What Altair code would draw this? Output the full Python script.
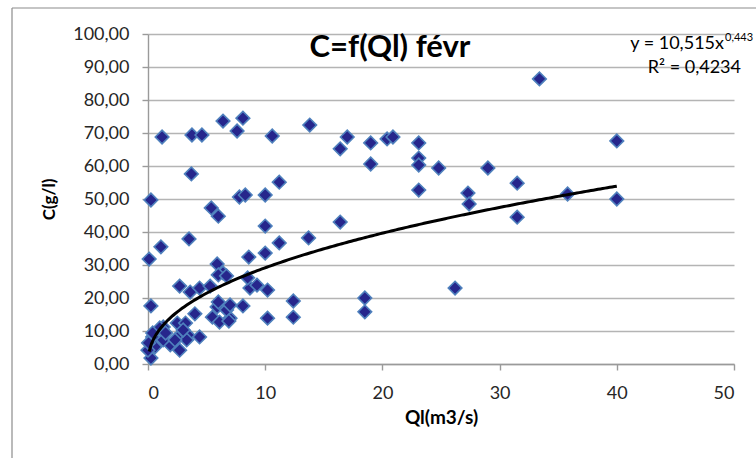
import altair as alt
import numpy as np
import pandas as pd

# Measured discharge Ql (m3/s) and concentration C (g/l), February
ql = [1.2, 3.75, 4.6, 6.4, 7.6, 8.1, 10.6, 13.8, 17.0, 16.4,
      19.0, 20.4, 20.9, 23.1, 23.1, 23.1, 19.0, 24.8, 29.0, 23.1,
      27.3, 27.4, 31.5, 31.5, 33.4, 40.0, 35.8, 40.0, 16.4, 18.5,
      18.5, 26.2, 3.7, 0.25, 7.8, 8.3, 10.0, 11.2, 5.4, 6.0,
      10.0, 3.5, 1.1, 0.1, 5.9, 6.4, 11.2, 13.7, 10.0, 8.6,
      6.0, 2.7, 3.6, 4.4, 5.3, 8.7, 9.3, 10.2, 12.4, 12.4,
      10.2, 8.1, 7.0, 5.9, 5.5, 6.1, 6.7, 6.0, 4.0, 4.4,
      2.5, 2.5, 1.3, 0.4, 0.25, 0.25, 1.9, 2.7, 3.2, 3.4,
      1.3, 0.6, 0.0, 3.3, 2.3, 1.0, 0.05, 1.5, 6.9, 7.0,
      8.5, 6.7, 3.0, 0.4]
conc = [68.8, 69.4, 69.4, 73.6, 70.6, 74.5, 69.1, 72.4, 68.8, 65.2,
        67.0, 68.2, 68.8, 67.0, 62.4, 60.3, 60.6, 59.4, 59.4, 52.7,
        51.8, 48.5, 54.8, 44.5, 86.4, 67.6, 51.5, 50.0, 43.0, 20.0,
        15.8, 23.0, 57.6, 49.7, 50.6, 51.2, 51.2, 55.1, 47.3, 44.8,
        41.8, 37.9, 35.5, 31.8, 30.3, 27.6, 36.7, 38.2, 33.6, 32.4,
        27.0, 23.6, 21.8, 23.0, 23.6, 23.0, 23.9, 22.4, 19.1, 14.2,
        13.9, 17.6, 13.9, 17.3, 14.2, 12.7, 16.4, 18.8, 15.2, 8.2,
        12.4, 7.9, 11.2, 8.2, 1.8, 17.6, 5.8, 4.2, 12.4, 8.8,
        7.3, 5.2, 4.2, 7.3, 7.3, 10.9, 6.4, 9.4, 13.0, 17.9,
        26.1, 26.7, 10.3, 9.4]

# Power trendline y = a * x^b
coef_a = 10.515
coef_b = 0.443
r_squared = "0,4234"

x_ticks = [0, 10, 20, 30, 40, 50]
y_ticks = [0, 10, 20, 30, 40, 50, 60, 70, 80, 90, 100]

title_text = ["C=f(Ql) févr"]
eq_main = ["y = 10,515x"]
eq_exp = ["0,443"]
eq_r2 = ["R² = " + r_squared]

FONT = "Lato"
W, H = 586, 330
LEFT, TOP = 148, 34

pts = pd.DataFrame({"Ql": ql, "C": conc})
trend_x = pd.DataFrame({"Ql": np.linspace(min(ql) + 0.1, max(ql), 200)})

x_axis = alt.Axis(values=x_ticks, tickCount=6, grid=False, title="Ql(m3/s)",
                  format="d", tickSize=6, labelPadding=14,
                  titlePadding=6, titleFontSize=19)
y_axis = alt.Axis(values=y_ticks, tickCount=11, grid=True, title="C(g/l)",
                  labelExpr="replace(format(datum.value, '.2f'), '.', ',')",
                  labelOverlap=False, tickSize=6, labelPadding=13,
                  titlePadding=14, titleFontSize=17)
x_scale = alt.Scale(domain=[0, 50], nice=False)
y_scale = alt.Scale(domain=[0, 100], nice=False)

points = alt.Chart(pts).mark_point(
    shape="diamond", filled=True, size=185, fill="#26268c",
    stroke="#4f81bd", strokeWidth=1.6, opacity=1
).encode(x=alt.X("Ql:Q", scale=x_scale, axis=x_axis),
         y=alt.Y("C:Q", scale=y_scale, axis=y_axis))

trend = alt.Chart(trend_x).transform_calculate(
    C=f"{coef_a} * pow(datum.Ql, {coef_b})"
).mark_line(color="black", strokeWidth=3).encode(
    x=alt.X("Ql:Q", scale=x_scale, axis=x_axis),
    y=alt.Y("C:Q", scale=y_scale, axis=y_axis))


def label(text, x, y, size, weight="normal", align="left"):
    return alt.Chart(pd.DataFrame({"t": text})).mark_text(
        font=FONT, fontSize=size, fontWeight=weight, align=align,
        baseline="middle", color="#000000"
    ).encode(x=alt.value(x), y=alt.value(y), text="t:N")


title = label(title_text, 242, 14, 31, "bold", "center")
eq1 = label(eq_main, 576, 10, 18, align="right")
eq2 = label(eq_exp, 577, 4, 11)
eq3 = label(eq_r2, 593, 34, 18, align="right")

# Outer chart frame (left and top edges)
frame_left = alt.Chart(pd.DataFrame({"k": [0]})).mark_rule(
    color="#8c8c8c", strokeWidth=1.2
).encode(x=alt.value(12 - LEFT), y=alt.value(8 - TOP), y2=alt.value(458 - TOP))
frame_top = alt.Chart(pd.DataFrame({"k": [0]})).mark_rule(
    color="#8c8c8c", strokeWidth=1.2
).encode(x=alt.value(12 - LEFT), x2=alt.value(756 - LEFT), y=alt.value(8 - TOP))

chart = alt.layer(points, trend, title, eq1, eq2, eq3, frame_left, frame_top).properties(
    width=W, height=H,
    autosize=alt.AutoSizeParams(type="none"),
    padding={"left": LEFT, "top": TOP, "right": 756 - LEFT - W, "bottom": 458 - TOP - H},
    background="white",
).configure_view(stroke=None).configure_axis(
    labelFont=FONT, titleFont=FONT, labelFontSize=18,
    labelColor="#262626", titleColor="#000000", titleFontWeight="bold",
    domainColor="#9a9a9a", tickColor="#9a9a9a", gridColor="#b4b4b4",
    gridWidth=1.4, domainWidth=1.4, tickWidth=1.4
)

chart.save("out.html", embed_options={"renderer": "svg", "actions": False})
